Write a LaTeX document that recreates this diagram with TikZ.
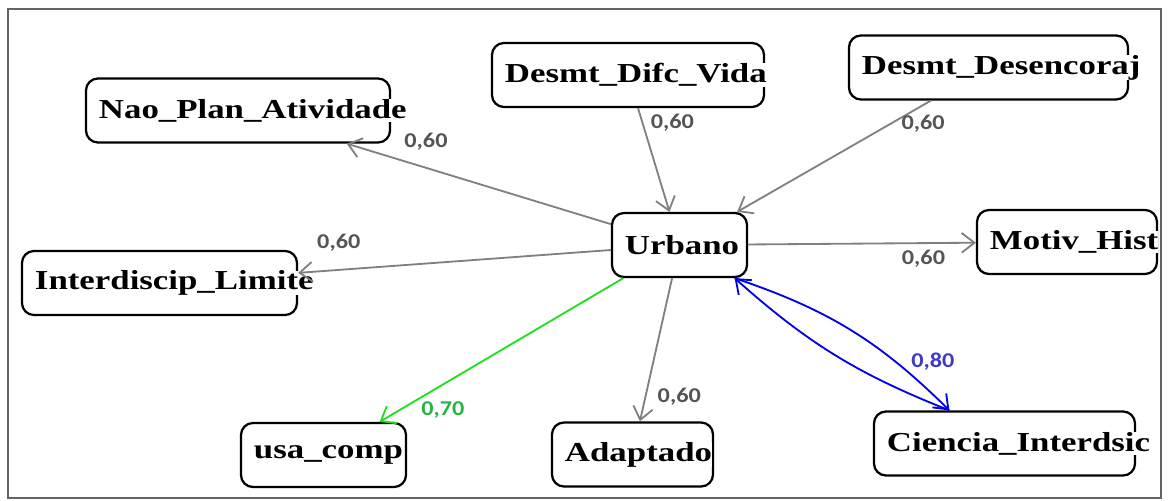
\documentclass[tikz,border=0pt]{standalone}
\usepackage{fontspec}
\usepackage{tikz}
\usetikzlibrary{arrows.meta}
\newfontfamily\varfont{Liberation Serif}[FakeStretch=1.27]
\newfontfamily\numfont{Carlito}[FakeStretch=1.15]
\definecolor{framegray}{RGB}{100,100,100}
\definecolor{edgegray}{RGB}{128,128,128}
\definecolor{numgray}{RGB}{85,85,85}
\definecolor{edgegreen}{RGB}{30,225,30}
\definecolor{numgreen}{RGB}{40,180,70}
\definecolor{edgeblue}{RGB}{0,0,235}
\definecolor{numblue}{RGB}{60,60,200}
\setlength{\fboxsep}{0pt}
\newcommand{\onwhite}[1]{\colorbox{white}{#1}}
\tikzset{varbox/.style={draw=black, line width=1.6pt, rounded corners=0.3cm, fill=white,
    minimum height=1.6cm, inner xsep=0.325cm, inner ysep=0pt, align=left, text width=#1,
    font=\fontsize{19.5pt}{22pt}\varfont\bfseries}}
\tikzset{wire/.style={draw=edgegray, line width=1.3pt, -{Straight Barb[length=9pt,width=14pt]}}}
\tikzset{num/.style={font=\fontsize{15pt}{17pt}\numfont\bfseries, text=numgray, inner sep=1pt}}

\begin{document}
\begin{tikzpicture}[x=0.025cm, y=-0.025cm]

                    \useasboundingbox (0,0) rectangle (1168,500);
                    \draw[draw=framegray, line width=1.4pt] (8,9) rectangle (1161,498);

                    \node[varbox=6.95cm] (N) at (238,110.5) {\onwhite{Nao\_Plan\_Atividade}};
                    \node[varbox=6.15cm] (V) at (628,75) {\onwhite{Desmt\_Difc\_Vida}};
                    \node[varbox=6.325cm] (E) at (988.5,67.5) {\onwhite{Desmt\_Desencoraj}};
                    \node[varbox=2.725cm] (U) at (679.5,245) {\onwhite{Urbano}};
                    \node[varbox=3.85cm] (M) at (1067,242) {\onwhite{Motiv\_Hist}};
                    \node[varbox=6.225cm] (L) at (159.5,283) {\onwhite{Interdiscip\_Limite}};
                    \node[varbox=3.475cm] (S) at (323.5,455) {\onwhite{usa\_comp}};
                    \node[varbox=3.375cm] (A) at (632.5,454.5) {\onwhite{Adaptado}};
                    \node[varbox=5.875cm] (C) at (1004.5,443.5) {\onwhite{Ciencia\_Interdsic}};

                    \draw[wire] (U) -- (N) node[num, pos=0.7, above=0.375cm] (l1) {0,60};
                    \draw[wire] (V) -- (U) node[num, pos=0.14, right=0.15cm] (l2) {0,60};
                    \draw[wire] (E) -- (U) node[num, pos=0.21, right=0.225cm] (l3) {0,60};
                    \draw[wire] (U) -- (L) node[num, pos=0.87, above=0.4cm] (l4) {0,60};
                    \draw[wire] (U) -- (M) node[num, pos=0.77, below=0.125cm] (l5) {0,60};
                    \draw[wire, draw=edgegreen] (U) -- (S) node[num, text=numgreen, pos=0.74, below=0.375cm] (l6) {0,70};
                    \draw[wire] (U) -- (A) node[num, pos=0.83, right=0.25cm] (l7) {0,60};
                    \draw[wire, draw=edgeblue] (U.-31) to[bend left=13] node[num, text=numblue, pos=0.8, above right=0pt] (l8) {0,80} (C.149.5);
                    \draw[wire, draw=edgeblue] (C.149.5) to[bend left=10] (U.-31);

\end{tikzpicture}
\end{document}
